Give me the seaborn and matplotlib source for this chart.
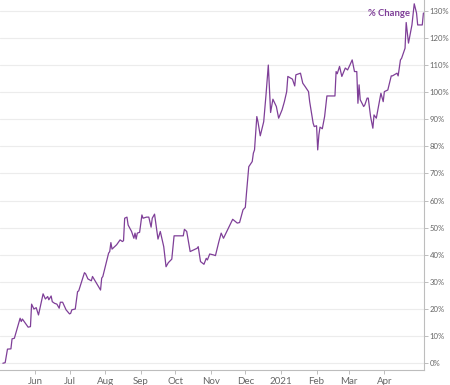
import matplotlib
matplotlib.use("Agg")
import matplotlib.pyplot as plt
import matplotlib.ticker as mticker
import pandas as pd
import seaborn as sns

dates = [
    "2020-05-04", "2020-05-06", "2020-05-08", "2020-05-11", "2020-05-12", "2020-05-14",
    "2020-05-19", "2020-05-20", "2020-05-21", "2020-05-26", "2020-05-28", "2020-05-29",
    "2020-05-31", "2020-06-02", "2020-06-04", "2020-06-08", "2020-06-10", "2020-06-12",
    "2020-06-13", "2020-06-15", "2020-06-16", "2020-06-18", "2020-06-20", "2020-06-22",
    "2020-06-23", "2020-06-25", "2020-06-28", "2020-07-01", "2020-07-02", "2020-07-03",
    "2020-07-06", "2020-07-08", "2020-07-09", "2020-07-14", "2020-07-15", "2020-07-17",
    "2020-07-20", "2020-07-21", "2020-07-28", "2020-07-29", "2020-07-30", "2020-08-04",
    "2020-08-05", "2020-08-06", "2020-08-07", "2020-08-11", "2020-08-14", "2020-08-16",
    "2020-08-17", "2020-08-18", "2020-08-20", "2020-08-21", "2020-08-24", "2020-08-26",
    "2020-08-27", "2020-08-28", "2020-08-29", "2020-08-31", "2020-09-02", "2020-09-03",
    "2020-09-06", "2020-09-08", "2020-09-10", "2020-09-11", "2020-09-13", "2020-09-16",
    "2020-09-18", "2020-09-21", "2020-09-23", "2020-09-25", "2020-09-28", "2020-09-30",
    "2020-10-04", "2020-10-08", "2020-10-09", "2020-10-11", "2020-10-14", "2020-10-17",
    "2020-10-20", "2020-10-21", "2020-10-23", "2020-10-26", "2020-10-28", "2020-10-29",
    "2020-10-31", "2020-11-03", "2020-11-05", "2020-11-08", "2020-11-10", "2020-11-12",
    "2020-11-20", "2020-11-24", "2020-11-26", "2020-11-29", "2020-12-01", "2020-12-02",
    "2020-12-04", "2020-12-07", "2020-12-08", "2020-12-09", "2020-12-11", "2020-12-12",
    "2020-12-14", "2020-12-17", "2020-12-19", "2020-12-21", "2020-12-23", "2020-12-25",
    "2020-12-28", "2020-12-30", "2021-01-02", "2021-01-04", "2021-01-06", "2021-01-07",
    "2021-01-11", "2021-01-13", "2021-01-14", "2021-01-18", "2021-01-20", "2021-01-22",
    "2021-01-25", "2021-01-26", "2021-01-29", "2021-01-30", "2021-02-01", "2021-02-02",
    "2021-02-03", "2021-02-04", "2021-02-06", "2021-02-08", "2021-02-10", "2021-02-17",
    "2021-02-18", "2021-02-19", "2021-02-21", "2021-02-23", "2021-02-26", "2021-02-28",
    "2021-03-02", "2021-03-04", "2021-03-06", "2021-03-08", "2021-03-09", "2021-03-10",
    "2021-03-11", "2021-03-14", "2021-03-15", "2021-03-17", "2021-03-18", "2021-03-20",
    "2021-03-22", "2021-03-23", "2021-03-25", "2021-03-29", "2021-03-31", "2021-04-01",
    "2021-04-04", "2021-04-07", "2021-04-08", "2021-04-12", "2021-04-13", "2021-04-15",
    "2021-04-16", "2021-04-19", "2021-04-20", "2021-04-22", "2021-04-25", "2021-04-27",
    "2021-04-29", "2021-04-30", "2021-05-04", "2021-05-05",
]

pct_change = [
    0, 0.2, 5.2, 5.3, 9, 9.2,
    16.6, 15.4, 16.3, 13.3, 13.5, 21.8,
    20, 20.5, 17.8, 25.6, 23.7, 24.6,
    23.4, 24.8, 22.7, 22.1, 21.8, 20.3,
    22.5, 22.5, 19.7, 18.2, 18.4, 19.7,
    20, 26.4, 26.7, 33.4, 33, 31.1,
    30.4, 32, 27, 31.4, 32, 40.6,
    41.2, 44.5, 42.1, 43.7, 45.5, 44.9,
    45.2, 53.5, 53.9, 51, 48.6, 46.1,
    48, 45.8, 48, 48.3, 54.7, 53.5,
    53.9, 53.9, 50.2, 53.5, 55, 45.8,
    48.6, 43, 35.6, 37.1, 38.4, 47,
    47, 47, 49.4, 48.6, 41.2, 41.8,
    42.4, 43, 37.5, 36.5, 38.7, 38.1,
    40.3, 40, 39.7, 44.9, 48, 46.1,
    53.1, 51.7, 51.9, 56.6, 57.5, 62.7,
    72.5, 74.4, 77.5, 78.7, 91, 89.1,
    83.9, 89.1, 99, 110, 92.5, 97.4,
    94.7, 90.4, 93.5, 96.5, 100.2, 105.8,
    104.8, 102.3, 106.4, 107, 103.3, 102.1,
    100.2, 96.5, 88.6, 87.3, 87.6, 78.7,
    84.2, 87.1, 86.5, 91, 98.6, 98.6,
    107.6, 106.8, 109.5, 105.8, 108.9, 108.2,
    110, 111.9, 107.6, 107.6, 95.9, 102.7,
    97.2, 94.7, 95.3, 97.8, 97.8, 91,
    86.7, 91.6, 90.4, 99.6, 96.5, 100.2,
    100.8, 106, 106, 107, 106, 111.9,
    112.5, 116.2, 125.7, 118.1, 124.8, 132.6,
    129.2, 124.8, 124.8, 129.2,
]

tick_dates = ["2020-06-01", "2020-07-01", "2020-08-01", "2020-09-01", "2020-10-01",
              "2020-11-01", "2020-12-01", "2021-01-01", "2021-02-01", "2021-03-01",
              "2021-04-01"]
tick_labels = ["Jun", "Jul", "Aug", "Sep", "Oct", "Nov", "Dec", "2021", "Feb", "Mar", "Apr"]
y_ticks = list(range(0, 140, 10))
series_label = "% Change"

line_color = "#7f3f98"

df = pd.DataFrame({"date": pd.to_datetime(dates), "pct": pct_change})

sns.set_style("white")
plt.rcParams["font.family"] = ["Lato", "DejaVu Sans"]

fig = plt.figure(figsize=(4.5, 3.85), dpi=100)
ax = fig.add_axes([0.0, 15 / 385, 424 / 450, 370 / 385])

sns.lineplot(data=df, x="date", y="pct", ax=ax, color=line_color, linewidth=0.9)

ax.set_xlim(pd.Timestamp("2020-05-01 12:00"), pd.Timestamp("2021-05-05 12:00"))
ax.set_ylim(-2.5, 134)

ax.set_xticks(pd.to_datetime(tick_dates))
ax.set_xticklabels(tick_labels)
ax.set_yticks(y_ticks)
ax.yaxis.set_major_formatter(mticker.FuncFormatter(lambda v, p: f"{int(v)}%"))
ax.yaxis.tick_right()

ax.grid(axis="y", color="#ececec", linewidth=0.8)
ax.grid(axis="x", visible=False)
ax.set_axisbelow(True)

for s in ["left", "top"]:
    ax.spines[s].set_visible(False)
for s in ["right", "bottom"]:
    ax.spines[s].set_color("#bdbdbd")
    ax.spines[s].set_linewidth(0.8)

ax.tick_params(axis="y", which="major", right=True, left=False, length=3, width=0.7,
               color="#bdbdbd", labelsize=5.6, labelcolor="#666666", pad=1.2)
ax.tick_params(axis="x", which="major", bottom=True, length=3, width=0.7,
               color="#bdbdbd", labelsize=7.0, labelcolor="#666666", pad=2)
ax.set_xlabel("")
ax.set_ylabel("")

ax.annotate(series_label, xy=(df["date"].iloc[-1], df["pct"].iloc[-1]),
            xytext=(-13, 0), textcoords="offset pixels", ha="right", va="center",
            fontsize=6.8, fontweight="bold", color=line_color)

fig.savefig("out.png", dpi=100)
